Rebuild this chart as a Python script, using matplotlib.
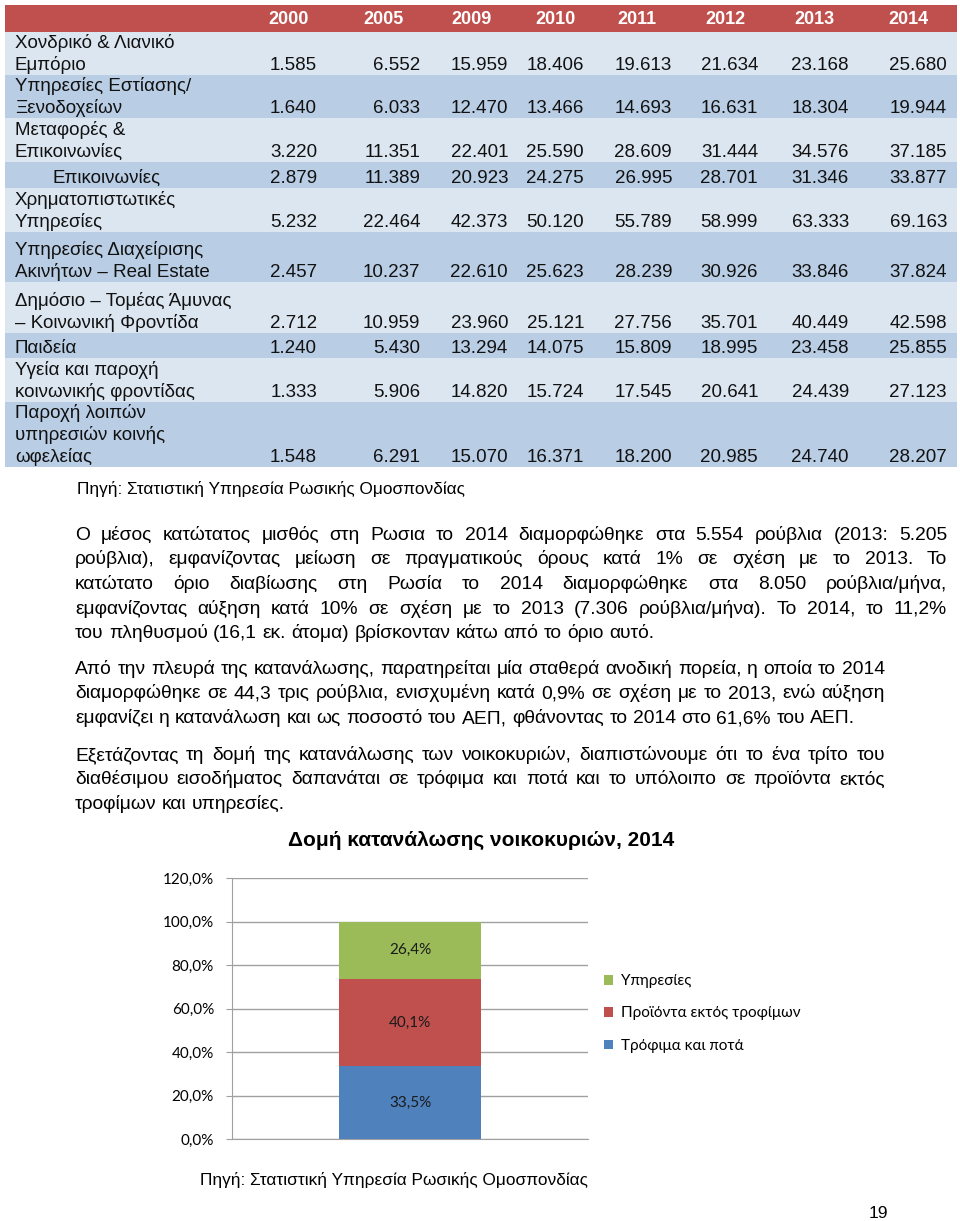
import matplotlib
matplotlib.use('Agg')
import matplotlib.pyplot as plt
from matplotlib.patches import Rectangle

plt.rcParams['font.family'] = ['Liberation Sans', 'DejaVu Sans']

W, H = 960, 1221

# ---- table data (thousand rubles, as printed) ----
years = ['2000', '2005', '2009', '2010', '2011', '2012', '2013', '2014']
row_labels = [
    'Χονδρικό & Λιανικό\nΕμπόριο',
    'Υπηρεσίες Εστίασης/\nΞενοδοχείων',
    'Μεταφορές &\nΕπικοινωνίες',
    'Επικοινωνίες',
    'Χρηματοπιστωτικές\nΥπηρεσίες',
    'Υπηρεσίες Διαχείρισης\nΑκινήτων – Real Estate',
    'Δημόσιο – Τομέας Άμυνας\n– Κοινωνική Φροντίδα',
    'Παιδεία',
    'Υγεία και παροχή\nκοινωνικής φροντίδας',
    'Παροχή λοιπών\nυπηρεσιών κοινής\nωφελείας',
]
v2000 = [1585, 1640, 3220, 2879, 5232, 2457, 2712, 1240, 1333, 1548]
v2005 = [6552, 6033, 11351, 11389, 22464, 10237, 10959, 5430, 5906, 6291]
v2009 = [15959, 12470, 22401, 20923, 42373, 22610, 23960, 13294, 14820, 15070]
v2010 = [18406, 13466, 25590, 24275, 50120, 25623, 25121, 14075, 15724, 16371]
v2011 = [19613, 14693, 28609, 26995, 55789, 28239, 27756, 15809, 17545, 18200]
v2012 = [21634, 16631, 31444, 28701, 58999, 30926, 35701, 18995, 20641, 20985]
v2013 = [23168, 18304, 34576, 31346, 63333, 33846, 40449, 23458, 24439, 24740]
v2014 = [25680, 19944, 37185, 33877, 69163, 37824, 42598, 25855, 27123, 28207]
columns = [v2000, v2005, v2009, v2010, v2011, v2012, v2013, v2014]

# ---- chart data ----
chart_cat = ['2014']
food = [33.5]
non_food = [40.1]
services = [26.4]
series_names = ['Τρόφιμα και ποτά', 'Προϊόντα εκτός τροφίμων', 'Υπηρεσίες']
yticks = [0, 20, 40, 60, 80, 100, 120]

# ---- text ----
para1 = [
    'Ο μέσος κατώτατος μισθός στη Ρωσια το 2014 διαμορφώθηκε στα 5.554 ρούβλια (2013: 5.205',
    'ρούβλια), εμφανίζοντας μείωση σε πραγματικούς όρους κατά 1% σε σχέση με το 2013. Το',
    'κατώτατο όριο διαβίωσης στη Ρωσία το 2014 διαμορφώθηκε στα 8.050 ρούβλια/μήνα,',
    'εμφανίζοντας αύξηση κατά 10% σε σχέση με το 2013 (7.306 ρούβλια/μήνα). Το 2014, το 11,2%',
    'του πληθυσμού (16,1 εκ. άτομα) βρίσκονταν κάτω από το όριο αυτό.',
]
para2 = [
    'Από την πλευρά της κατανάλωσης, παρατηρείται μία σταθερά ανοδική πορεία, η οποία το 2014',
    'διαμορφώθηκε σε 44,3 τρις ρούβλια, ενισχυμένη κατά 0,9% σε σχέση με το 2013, ενώ αύξηση',
    'εμφανίζει η κατανάλωση και ως ποσοστό του ΑΕΠ, φθάνοντας το 2014 στο 61,6% του ΑΕΠ.',
]
para3 = [
    'Εξετάζοντας τη δομή της κατανάλωσης των νοικοκυριών, διαπιστώνουμε ότι το ένα τρίτο του',
    'διαθέσιμου εισοδήματος δαπανάται σε τρόφιμα και ποτά και το υπόλοιπο σε προϊόντα εκτός',
    'τροφίμων και υπηρεσίες.',
]
source = 'Πηγή: Στατιστική Υπηρεσία Ρωσικής Ομοσπονδίας'

fig = plt.figure(figsize=(W / 100, H / 100), dpi=100)
ax = fig.add_axes([0, 0, 1, 1])
ax.set_xlim(0, W)
ax.set_ylim(H, 0)
ax.axis('off')

# ---- table ----
red = '#C0504D'
light = '#DCE6F1'
dark = '#B9CDE5'
tx0, tx1 = 5, 957
ax.add_patch(Rectangle((tx0, 5), tx1 - tx0, 27, color=red, lw=0))
year_x = [289, 383, 471, 556, 637, 725, 814, 908]
for yr, xc in zip(years, year_x):
    ax.text(xc, 19, yr, color='white', fontsize=13, fontweight='bold',
            ha='center', va='center')

row_h = [43, 43, 44, 26, 44, 50, 51, 25, 44, 65]
num_right = [317, 420, 508, 584, 672, 758, 849, 947]
fs_tab = 13.5
top = 32
for i, (lab, h) in enumerate(zip(row_labels, row_h)):
    ax.add_patch(Rectangle((tx0, top), tx1 - tx0, h,
                           color=light if i % 2 == 0 else dark, lw=0))
    bottom = top + h
    base = bottom - 5
    lines = lab.split('\n')
    lx = 53 if lab == 'Επικοινωνίες' else 15
    for k, ln in enumerate(lines):
        ax.text(lx, base - 22 * (len(lines) - 1 - k), ln, fontsize=fs_tab,
                va='baseline', ha='left', color='#111111')
    for col, xr in zip(columns, num_right):
        s = f'{col[i]:,}'.replace(',', '.')
        ax.text(xr, base, s, fontsize=fs_tab, va='baseline', ha='right',
                color='#111111')
    top = bottom

ax.text(77, 494, source, fontsize=12.4, va='baseline', ha='left')

# ---- justified paragraphs ----
renderer = fig.canvas.get_renderer()
fs_body = 13.9


def measure(s):
    t = ax.text(0, 0, s, fontsize=fs_body)
    w = t.get_window_extent(renderer).width
    t.remove()
    return w


space_w = measure('x x') - measure('xx')


def paragraph(lines, y0, x0, x1, step=24.5):
    for n, line in enumerate(lines):
        y = y0 + n * step
        words = line.split(' ')
        texts = [ax.text(0, y, w, fontsize=fs_body, va='baseline') for w in words]
        widths = [t.get_window_extent(renderer).width for t in texts]
        last = n == len(lines) - 1
        if last or len(words) == 1:
            gap = space_w
        else:
            gap = (x1 - x0 - sum(widths)) / (len(words) - 1)
        x = x0
        for t, w in zip(texts, widths):
            t.set_x(x)
            x += w + gap


paragraph(para1, 540, 75, 947)
paragraph(para2, 674, 75, 885)
paragraph(para3, 760, 75, 885)

# ---- chart ----
ax.text(481, 840, 'Δομή κατανάλωσης νοικοκυριών, 2014', fontsize=15,
        fontweight='bold', ha='center', va='center')

ax2 = fig.add_axes([232 / W, 1 - 1139 / H, 356 / W, 261 / H])
colors = ['#4F81BD', '#C0504D', '#9BBB59']
bottom_vals = [0.0]
for vals, c, name in zip([food, non_food, services], colors, series_names):
    bars = ax2.bar(chart_cat, vals, width=0.4, bottom=bottom_vals, color=c,
                   label=name)
    for b, v in zip(bars, vals):
        ax2.text(b.get_x() + b.get_width() / 2, b.get_y() + v / 2,
                 f'{v:.1f}%'.replace('.', ','), ha='center', va='center',
                 fontsize=11, family='Lato', color='#1a1a1a')
    bottom_vals = [b + v for b, v in zip(bottom_vals, vals)]

ax2.set_xlim(-0.5, 0.5)
ax2.set_ylim(0, 120)
ax2.set_yticks(yticks)
ax2.set_yticklabels([f'{t:.1f}%'.replace('.', ',') for t in yticks],
                    family='Lato', fontsize=11)
ax2.tick_params(axis='y', length=4, color='#A0A0A0', pad=9)
ax2.tick_params(axis='x', length=0, labelbottom=False)
ax2.yaxis.grid(True, color='#A0A0A0', lw=1)
ax2.set_axisbelow(True)
for sp in ['top', 'right']:
    ax2.spines[sp].set_visible(False)
for sp in ['left', 'bottom']:
    ax2.spines[sp].set_color('#A0A0A0')

h, l = ax2.get_legend_handles_labels()
fig.legend(h[::-1], l[::-1], loc='upper left',
           bbox_to_anchor=(598 / W, 1 - 968 / H), frameon=False,
           prop={'family': 'Lato', 'size': 11}, handlelength=0.6,
           handleheight=0.6, handletextpad=0.5, labelspacing=1.2,
           borderaxespad=0)

ax.text(394, 1180, source, fontsize=12.4, ha='center', va='center')
ax.text(878, 1214, '19', fontsize=12.5, ha='center', va='center')

fig.savefig('out.png', dpi=100)
